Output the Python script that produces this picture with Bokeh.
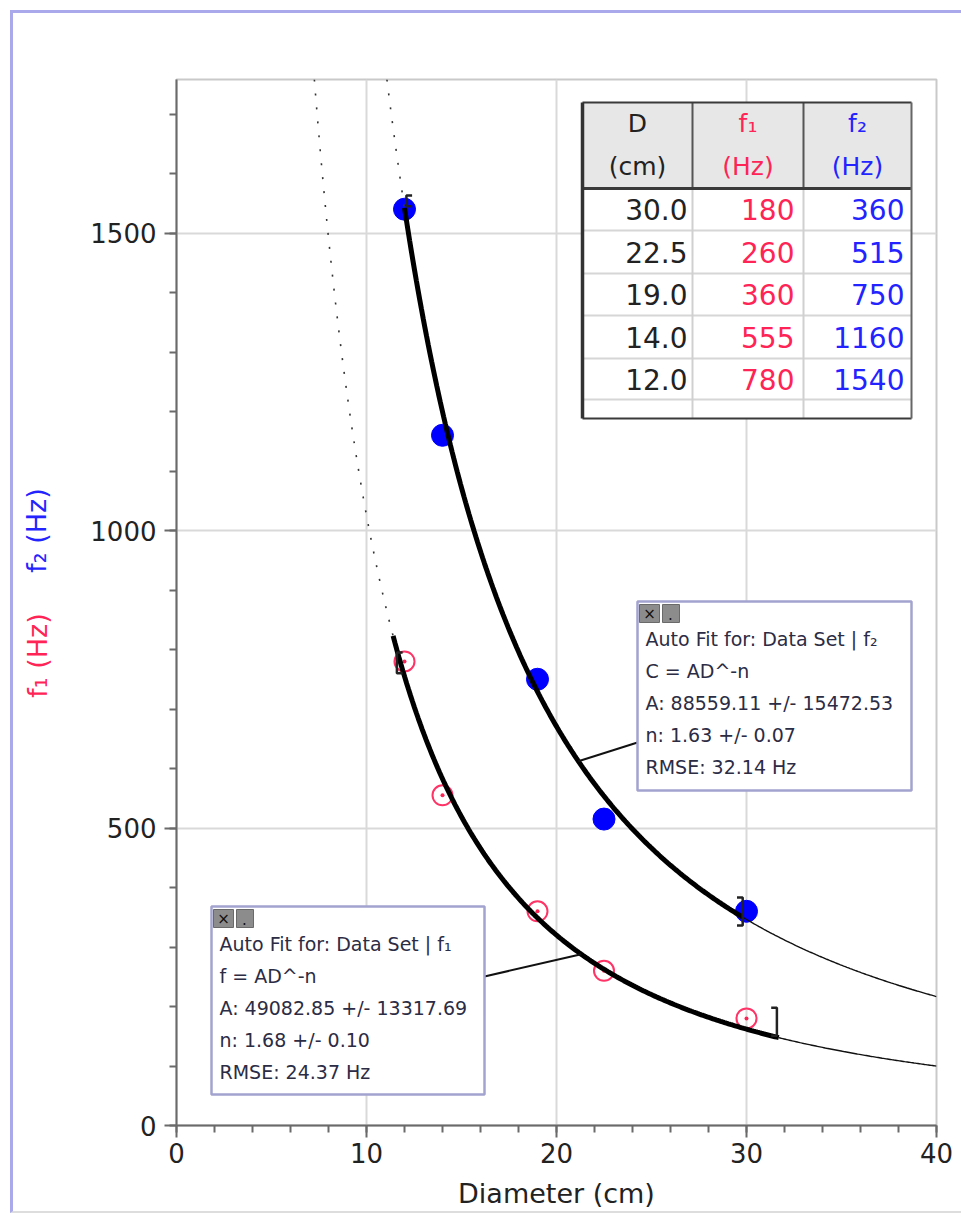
import numpy as np
from bokeh.plotting import figure
from bokeh.models import Range1d, FixedTicker, LinearAxis
from bokeh.core.properties import value
from bokeh.embed import file_html
from bokeh.resources import INLINE

# ---------------- data ----------------
diameter = [30.0, 22.5, 19.0, 14.0, 12.0]
f1_hz = [180, 260, 360, 555, 780]
f2_hz = [360, 515, 750, 1160, 1540]

fit1_A, fit1_n = 49082.85, 1.68
fit2_A, fit2_n = 88559.11, 1.63
fit1_range = [11.4, 31.7]
fit2_range = [12.0, 29.8]

fit1_lines = ["Auto Fit for: Data Set | f\u2081", "f = AD^-n", "A: 49082.85 +/- 13317.69",
              "n: 1.68 +/- 0.10", "RMSE: 24.37 Hz"]
fit2_lines = ["Auto Fit for: Data Set | f\u2082", "C = AD^-n", "A: 88559.11 +/- 15472.53",
              "n: 1.63 +/- 0.07", "RMSE: 32.14 Hz"]

x_ticks = [0, 10, 20, 30, 40]
x_minor = list(range(0, 41, 2))
y_ticks = [0, 500, 1000, 1500]
y_minor = list(range(0, 1800, 100))

X_MAX, Y_MAX = 40, 1758

RED = "#ff2455"
BLUE = "#2323ff"
TXT = "#222222"
FONT = "DejaVu Sans"

# frame geometry in page pixels (for placing decorations)
FL, FR, FT, FB = 176, 936, 79, 1125
CX0, CY0 = 13, 13  # canvas origin on the page
def X(px):
    return (px - FL) / (FR - FL) * X_MAX
def Y(py):
    return (FB - py) / (FB - FT) * Y_MAX

p = figure(frame_width=FR - FL, frame_height=FB - FT,
           x_range=Range1d(0, X_MAX), y_range=Range1d(0, Y_MAX),
           output_backend="svg", toolbar_location=None,
           min_border_left=FL - CX0, min_border_right=25, min_border_top=FT - CY0,
           min_border_bottom=85,
           background_fill_color="white", border_fill_color="white")
p.styles = {"border-top": "3px solid #a9a9ec", "border-left": "3px solid #a9a9ec",
            "border-bottom": "2px solid #dddddd", "margin-left": "10px", "margin-top": "10px"}

p.outline_line_color = "#c9c9c9"
p.outline_line_width = 2

for ax, tk, mn in ((p.xaxis, x_ticks, x_minor), (p.yaxis, y_ticks, y_minor)):
    ax.ticker = FixedTicker(ticks=tk, minor_ticks=mn)
    ax.axis_line_color = "#6a6a6a"
    ax.axis_line_width = 2
    ax.major_tick_line_color = "#6a6a6a"
    ax.major_tick_line_width = 2
    ax.minor_tick_line_color = "#6a6a6a"
    ax.minor_tick_line_width = 2
    ax.major_tick_out = 12
    ax.major_tick_in = 0
    ax.minor_tick_out = 7
    ax.minor_tick_in = 0
    ax.major_label_text_font = FONT
    ax.major_label_text_font_size = "26px"
    ax.major_label_text_color = TXT

p.xaxis.axis_label = "Diameter (cm)"
p.xaxis.axis_label_text_font = FONT
p.xaxis.axis_label_text_font_size = "27px"
p.xaxis.axis_label_text_font_style = "normal"
p.xaxis.axis_label_text_color = TXT
p.xaxis.axis_label_standoff = 12
p.xaxis.major_label_standoff = 5
p.yaxis.major_label_standoff = 8

p.xgrid.grid_line_color = "#d9d9d9"
p.xgrid.grid_line_width = 2
p.ygrid.grid_line_color = "#d9d9d9"
p.ygrid.grid_line_width = 2

# y axis titles (two colours): label-only axes on the left
ylab_pos = {"f\u2081 (Hz)": 790, "f\u2082 (Hz)": 1000}
for txt, col, standoff in (("f\u2081 (Hz)", RED, 34), ("f\u2082 (Hz)", BLUE, -33)):
    pos = ylab_pos[txt]
    lab_ax = LinearAxis(ticker=FixedTicker(ticks=[pos], minor_ticks=[]),
                        major_label_overrides={pos: txt})
    lab_ax.axis_line_color = None
    lab_ax.major_tick_line_color = None
    lab_ax.minor_tick_line_color = None
    lab_ax.major_tick_out = 0
    lab_ax.major_tick_in = 0
    lab_ax.minor_tick_out = 0
    lab_ax.major_label_orientation = "parallel"
    lab_ax.major_label_standoff = standoff
    lab_ax.major_label_text_color = col
    lab_ax.major_label_text_font = FONT
    lab_ax.major_label_text_font_size = "27px"
    p.add_layout(lab_ax, "left")

# ---------------- data points ----------------
p.scatter(diameter, f2_hz, size=22, marker="circle", fill_color="#0000ff", line_color="#0000ff")
p.scatter(diameter, f1_hz, size=20, marker="circle", fill_color=None, line_color="#ff3366", line_width=2)
p.scatter(diameter, f1_hz, size=4, marker="circle", fill_color="#ff2255", line_color=None)

# ---------------- fit curves ----------------
def model(A, n, D):
    return A * np.asarray(D, dtype=float) ** (-n)

for A, n, rng in ((fit1_A, fit1_n, fit1_range), (fit2_A, fit2_n, fit2_range)):
    d_top = (A / Y_MAX) ** (1.0 / n)
    d_dot = np.linspace(d_top, rng[0], 120)
    d_fit = np.linspace(rng[0], rng[1], 200)
    d_ext = np.linspace(rng[1], X_MAX, 120)
    p.line(d_dot, model(A, n, d_dot), line_color="#333333", line_width=1.6, line_dash="2 12")
    p.line(d_ext, model(A, n, d_ext), line_color="#111111", line_width=1.4)
    p.line(d_fit, model(A, n, d_fit), line_color="#000000", line_width=5)

# fit range brackets
br_w = 0.3
def bracket(d, lo, hi, side):
    w = br_w * side
    return [d + w, d, d, d + w], [hi, hi, lo, lo]

b1 = bracket(11.6, 760, 795, 1)
b2 = bracket(31.6, 151, 198, -1)
b3 = bracket(29.8, 336, 383, -1)
b4 = bracket(12.1, 1545, 1563, 1)
p.multi_line([b1[0], b2[0], b3[0], b4[0]], [b1[1], b2[1], b3[1], b4[1]],
             line_color="#222222", line_width=2.5)

# ---------------- data table ----------------
cols = [582, 692, 803, 911]
rows = [102, 188, 230, 273, 315, 358, 399, 418]
p.quad(left=X(cols[0]), right=X(cols[3]), top=Y(rows[0]), bottom=Y(rows[1]),
       fill_color="#e7e7e7", line_color=None)
p.quad(left=X(cols[0]), right=X(cols[3]), top=Y(rows[1]), bottom=Y(rows[7]),
       fill_color="white", line_color=None)
# light body lines
p.segment(x0=[X(cols[0])] * 5, x1=[X(cols[3])] * 5, y0=[Y(r) for r in rows[2:7]],
          y1=[Y(r) for r in rows[2:7]], line_color="#d6d6d6", line_width=2)
p.segment(x0=[X(c) for c in cols[1:3]], x1=[X(c) for c in cols[1:3]],
          y0=[Y(rows[1])] * 2, y1=[Y(rows[7])] * 2, line_color="#d0d0d0", line_width=2)
# dark header lines & borders
p.segment(x0=[X(c) for c in cols[1:3]], x1=[X(c) for c in cols[1:3]],
          y0=[Y(rows[0])] * 2, y1=[Y(rows[1])] * 2, line_color="#555555", line_width=2)
p.segment(x0=[X(cols[0]), X(cols[0]), X(cols[0])], x1=[X(cols[3]), X(cols[3]), X(cols[3])],
          y0=[Y(rows[0]), Y(rows[1]), Y(rows[7])], y1=[Y(rows[0]), Y(rows[1]), Y(rows[7])],
          line_color="#3a3a3a", line_width=[2, 3, 2])
p.segment(x0=[X(cols[0]), X(cols[3])], x1=[X(cols[0]), X(cols[3])],
          y0=[Y(rows[0])] * 2, y1=[Y(rows[7])] * 2, line_color=["#333333", "#666666"],
          line_width=[3.5, 2])

hdr_x = [X((cols[i] + cols[i + 1]) / 2) for i in range(3)]
p.text(x=hdr_x, y=[Y(123)] * 3, text=["D", "f\u2081", "f\u2082"], text_align="center",
       text_baseline="middle", text_color=[TXT, RED, BLUE], text_font=value(FONT),
       text_font_size="25px")
p.text(x=hdr_x, y=[Y(166)] * 3, text=["(cm)", "(Hz)", "(Hz)"], text_align="center",
       text_baseline="middle", text_color=[TXT, RED, BLUE], text_font=value(FONT),
       text_font_size="25px")
row_y = [Y((rows[i + 1] + rows[i + 2]) / 2) for i in range(5)]
for vals, xr, col, fmt in ((diameter, 687, TXT, "{:.1f}"), (f1_hz, 794, RED, "{:d}"),
                           (f2_hz, 904, BLUE, "{:d}")):
    p.text(x=[X(xr)] * 5, y=row_y, text=[fmt.format(v) for v in vals], text_align="right",
           text_baseline="middle", text_color=col, text_font=value(FONT), text_font_size="28px")

# ---------------- fit annotation boxes ----------------
def fit_box(left, top, right, bottom, lines, leader_d, leader_xy, A, n):
    d = leader_d
    p.segment(x0=[d], y0=[float(model(A, n, d))], x1=[X(leader_xy[0])], y1=[Y(leader_xy[1])],
              line_color="#111111", line_width=2)
    p.quad(left=X(left), right=X(right), top=Y(top), bottom=Y(bottom),
           fill_color="white", line_color="#a3a3cf", line_width=2.5)
    p.quad(left=[X(left + 2), X(left + 25)], right=[X(left + 22), X(left + 42)],
           top=[Y(top + 3)] * 2, bottom=[Y(top + 21)] * 2,
           fill_color="#8c8c8c", line_color="#6a6a6a", line_width=1)
    p.text(x=[X(left + 12), X(left + 33)], y=[Y(top + 12)] * 2, text=["\u00d7", "."],
           text_align="center", text_baseline="middle", text_color="#111111",
           text_font=value(FONT), text_font_size="15px")
    p.text(x=[X(left + 8)] * 5, y=[Y(top + 37 + 32 * i) for i in range(5)], text=lines,
           text_align="left", text_baseline="middle", text_color="#2c2c44",
           text_font=value(FONT), text_font_size="19px")

fit_box(637, 601, 911, 790, fit2_lines, 21.15, (637, 742), fit2_A, fit2_n)
fit_box(211, 906, 484, 1094, fit1_lines, 21.3, (484, 976), fit1_A, fit1_n)

open("out.html", "w").write(file_html(p, INLINE))
